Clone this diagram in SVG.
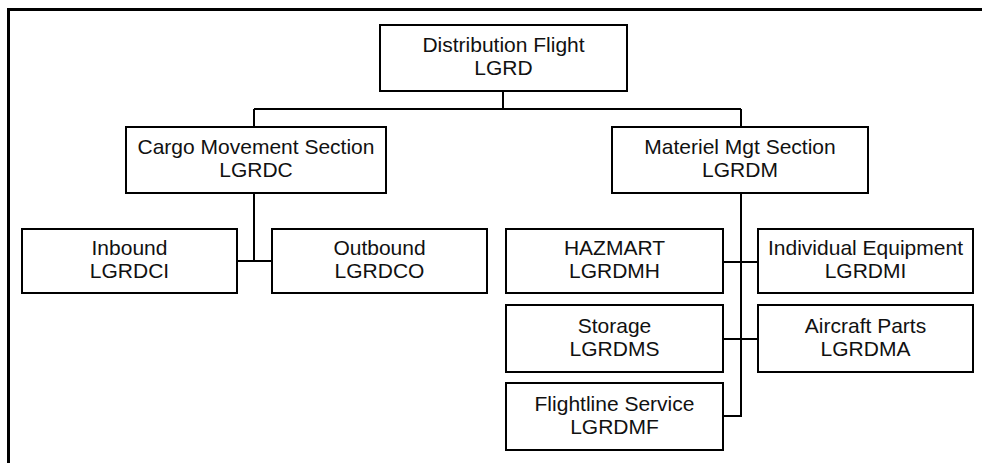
<svg xmlns="http://www.w3.org/2000/svg" width="982" height="463" viewBox="0 0 982 463">
<style>
.box{fill:#fff;stroke:#000;stroke-width:2}
.t{font-family:"Liberation Sans",Arial,sans-serif;font-size:21px;fill:#111;text-anchor:middle}
.c{fill:none;stroke:#000;stroke-width:2}
</style>
<rect width="982" height="463" fill="#fff"/>
<path d="M8.5,463 V9.5 H982" fill="none" stroke="#000" stroke-width="3"/>
<g id="connectors">
<path class="c" d="M503,91 V109 M254,109 H741 M254,109 V127 M741,109 V127"/>
<path class="c" d="M254,193 V261 M237,261 H272"/>
<path class="c" d="M741,193 V416 H723 M723,262 H758 M723,339 H758"/>
</g>
<g id="lgrd"><rect class="box" x="380" y="25" width="247" height="66"/><text class="t" x="503.5" y="52">Distribution Flight</text><text class="t" x="503.5" y="75">LGRD</text></g>
<g id="lgrdc"><rect class="box" x="126" y="127" width="260" height="66"/><text class="t" x="256" y="154">Cargo Movement Section</text><text class="t" x="256" y="177">LGRDC</text></g>
<g id="lgrdm"><rect class="box" x="612" y="127" width="256" height="66"/><text class="t" x="740" y="154">Materiel Mgt Section</text><text class="t" x="740" y="177">LGRDM</text></g>
<g id="lgrdci"><rect class="box" x="22" y="229" width="215" height="64"/><text class="t" x="129.5" y="255">Inbound</text><text class="t" x="129.5" y="278">LGRDCI</text></g>
<g id="lgrdco"><rect class="box" x="272" y="229" width="215" height="64"/><text class="t" x="379.5" y="255">Outbound</text><text class="t" x="379.5" y="278">LGRDCO</text></g>
<g id="lgrdmh"><rect class="box" x="506" y="229" width="217" height="64"/><text class="t" x="614.5" y="255">HAZMART</text><text class="t" x="614.5" y="278">LGRDMH</text></g>
<g id="lgrdmi"><rect class="box" x="758" y="229" width="215" height="64"/><text class="t" x="865.5" y="255">Individual Equipment</text><text class="t" x="865.5" y="278">LGRDMI</text></g>
<g id="lgrdms"><rect class="box" x="506" y="305" width="217" height="67"/><text class="t" x="614.5" y="333">Storage</text><text class="t" x="614.5" y="356">LGRDMS</text></g>
<g id="lgrdma"><rect class="box" x="758" y="305" width="215" height="67"/><text class="t" x="865.5" y="333">Aircraft Parts</text><text class="t" x="865.5" y="356">LGRDMA</text></g>
<g id="lgrdmf"><rect class="box" x="506" y="383" width="217" height="67"/><text class="t" x="614.5" y="411">Flightline Service</text><text class="t" x="614.5" y="434">LGRDMF</text></g>
</svg>
